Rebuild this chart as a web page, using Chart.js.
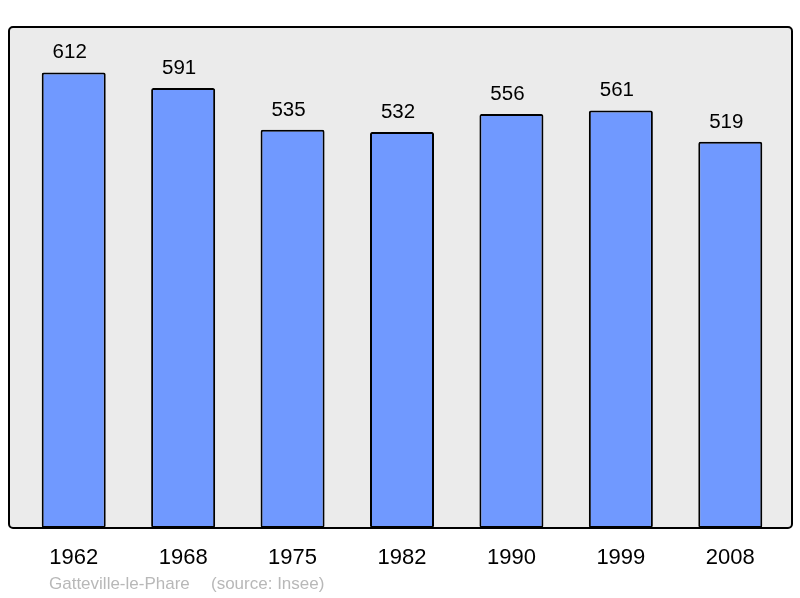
<!DOCTYPE html>
<html lang="fr">
<head>
  <meta charset="UTF-8">
  <title>Gatteville-le-Phare</title>
  <script src="https://cdn.jsdelivr.net/npm/chart.js"></script>
  <style>
    html, body { margin: 0; padding: 0; background: #fff; }
    #wrap { width: 800px; height: 598px; position: relative; }
  </style>
</head>
<body>
  <div id="wrap"><canvas id="popChart"></canvas></div>

  <script>
    // Population data
    const years = ['1962', '1968', '1975', '1982', '1990', '1999', '2008'];
    const population = [612, 591, 535, 532, 556, 561, 519];
    const sourceText = ['Gatteville-le-Phare', '(source: Insee)'];

    const FONT = '"Liberation Sans", Arial, sans-serif';

    // grey frame behind the bars, border drawn over them
    const framePlugin = {
      id: 'frame',
      beforeDatasetsDraw(chart) {
        const ctx = chart.ctx, a = chart.chartArea;
        ctx.save();
        ctx.fillStyle = '#ebebeb';
        ctx.beginPath();
        ctx.roundRect(a.left - 10, a.top, a.right - a.left + 17, a.bottom - a.top, 4);
        ctx.fill();
        ctx.restore();
      },
      afterDatasetsDraw(chart) {
        const ctx = chart.ctx, a = chart.chartArea;
        const x = chart.scales.x, y = chart.scales.y;
        ctx.save();
        ctx.strokeStyle = '#000';
        ctx.lineWidth = 2;
        ctx.beginPath();
        ctx.roundRect(a.left - 10, a.top, a.right - a.left + 17, a.bottom - a.top, 4);
        ctx.stroke();

        // value labels above bars (sit slightly left of bar centre)
        ctx.fillStyle = '#000';
        ctx.textAlign = 'center';
        ctx.textBaseline = 'alphabetic';
        ctx.font = '20.5px ' + FONT;
        population.forEach((v, i) => {
          ctx.fillText(String(v), x.getPixelForValue(i) - 4, y.getPixelForValue(v) - 14);
        });

        // year labels under the frame
        ctx.font = '22px ' + FONT;
        years.forEach((yr, i) => {
          ctx.fillText(yr, x.getPixelForValue(i), a.bottom + 36);
        });

        // source line
        ctx.fillStyle = '#b8b8b8';
        ctx.textAlign = 'left';
        ctx.font = '17px ' + FONT;
        ctx.fillText(sourceText[0], 49, a.bottom + 61);
        ctx.fillText(sourceText[1], 211, a.bottom + 61);
        ctx.restore();
      }
    };

    new Chart(document.getElementById('popChart'), {
      type: 'bar',
      data: {
        labels: years,
        datasets: [{
          data: population,
          backgroundColor: '#7099ff',
          borderColor: '#000',
          borderWidth: 2,
          borderRadius: 2,
          borderSkipped: false,
          barPercentage: 0.585,
          categoryPercentage: 1
        }]
      },
      options: {
        responsive: true,
        maintainAspectRatio: false,
        animation: false,
        layout: { padding: { left: 19, right: 15, top: 27, bottom: 70 } },
        plugins: { legend: { display: false }, tooltip: { enabled: false } },
        scales: {
          x: { display: false },
          y: { display: false, min: 0, max: 673 }
        }
      },
      plugins: [framePlugin]
    });
  </script>
</body>
</html>
